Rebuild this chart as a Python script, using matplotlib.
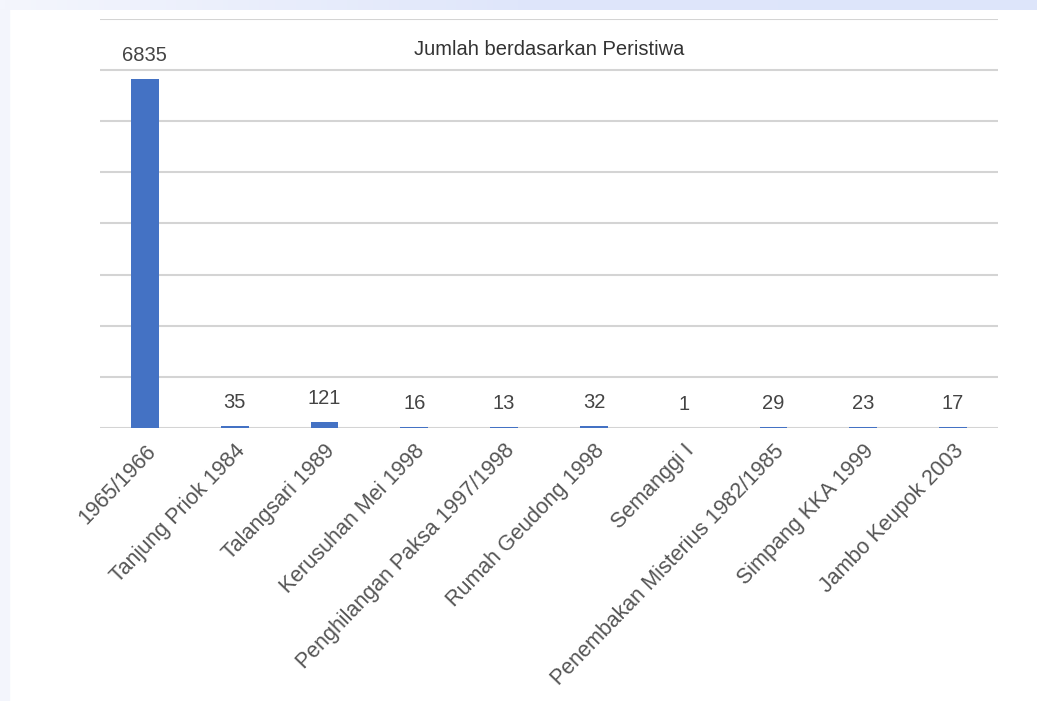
import numpy as np
import matplotlib.pyplot as plt
from matplotlib.patches import Rectangle
from matplotlib.colors import LinearSegmentedColormap

categories = ['1965/1966', 'Tanjung Priok 1984', 'Talangsari 1989', 'Kerusuhan Mei 1998',
              'Penghilangan Paksa 1997/1998', 'Rumah Geudong 1998', 'Semanggi I',
              'Penembakan Misterius 1982/1985', 'Simpang KKA 1999', 'Jambo Keupok 2003']
values = [6835, 35, 121, 16, 13, 32, 1, 29, 23, 17]

plt.rcParams['font.family'] = ['Liberation Sans', 'DejaVu Sans']

fig = plt.figure(figsize=(10.37, 7.01), dpi=100)

# light blue band at the top, left edge strip
band = fig.add_axes([0, 1 - 10 / 701, 1, 10 / 701])
cmap = LinearSegmentedColormap.from_list('band', ['#f4f6fd', '#dfe6fa', '#dde5fa'])
band.imshow(np.linspace(0, 1, 200).reshape(1, -1), aspect='auto', cmap=cmap,
            extent=[0, 1, 0, 1])
band.axis('off')
fig.patches.append(Rectangle((0, 0), 9 / 1037, 1 - 10 / 701, transform=fig.transFigure,
                             color='#f3f5fc', zorder=0))

ax = fig.add_axes([100 / 1037, 1 - 428 / 701, 898 / 1037, 409 / 701])
x = range(len(categories))
ax.bar(x, values, width=0.31, color='#4472c4', zorder=3)
for xi, v in zip(x, values):
    ax.annotate(str(v), (xi, v), xytext=(0, 10), textcoords='offset points',
                ha='center', va='bottom', fontsize=14.5, color='#444444')

ax.set_xlim(-0.5, len(categories) - 0.5)
ax.set_ylim(0, 8000)
ax.set_yticks(range(0, 8001, 1000))
ax.yaxis.grid(True, color='#d4d4d4', linewidth=1.5)
ax.tick_params(axis='y', length=0, labelleft=False)
ax.set_xticks(list(x))
ax.set_xticklabels(categories, rotation=46, ha='right', rotation_mode='anchor',
                   fontsize=15.5, color='#555555')
ax.tick_params(axis='x', length=0, pad=9)
for s in ax.spines.values():
    s.set_visible(False)
ax.set_axisbelow(True)

ax.text(0.5, 0.925, 'Jumlah berdasarkan Peristiwa', transform=ax.transAxes,
        ha='center', va='center', fontsize=14.5, color='#333333')

fig.savefig('out.png', dpi=100)
